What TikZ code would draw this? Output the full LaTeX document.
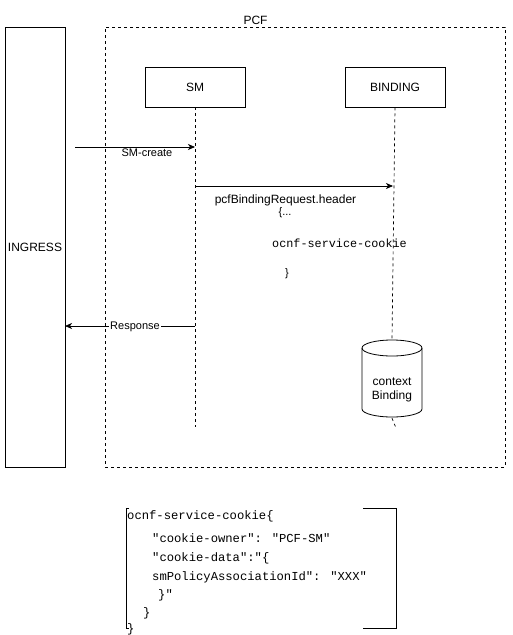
\documentclass[tikz,border=0pt]{standalone}
\usepackage{fontspec}
\setmainfont{Liberation Sans}
\newfontfamily\monof{Liberation Mono}
\usetikzlibrary{arrows.meta}
\begin{document}
\begin{tikzpicture}[x=1pt,y=-1pt,
  box/.style={draw, line width=0.8pt, minimum width=100pt, minimum height=40pt, inner sep=0pt, font=\fontsize{12}{14}\selectfont},
  life/.style={dash pattern=on 3pt off 3pt, line width=0.7pt},
  msg/.style={line width=0.8pt, -{Stealth[length=7pt,width=6pt,inset=2pt]}},
  lbl/.style={fill=white, inner sep=1pt, font=\fontsize{11}{13}\selectfont},
  txt/.style={inner sep=0pt, font=\fontsize{12}{14}\selectfont},
  code/.style={inner sep=0pt, anchor=base west, font=\monof\fontsize{12.2}{14}\selectfont}]
\useasboundingbox (0,0) rectangle (513,635);
% containers
\node[draw, line width=0.8pt, minimum width=60pt, minimum height=440pt, inner sep=0pt, font=\fontsize{12}{14}\selectfont] (ing) at (35,247) {INGRESS};
\node[draw, dash pattern=on 3pt off 3pt, line width=0.7pt, minimum width=400pt, minimum height=440pt, inner sep=0pt] (pcf) at (305,247) {};
\node[txt] (pcflbl) at (255.5,20.5) {PCF};
% participants
\node[box] (sm) at (195,87) {SM};
\node[box] (bind) at (395,87) {BINDING};
% database cylinder
\node[minimum width=60pt, minimum height=78pt, inner sep=0pt] (db) at (392,379) {};
\draw[line width=0.8pt, fill=white] (362,348) -- (362,409) arc[start angle=180, end angle=0, x radius=30, y radius=8] -- (422,348);
\draw[line width=0.8pt] (392,348) ellipse [x radius=30, y radius=8];
\node[txt, align=center, font=\fontsize{12}{14}\selectfont] (dbtxt) at (392,390) {context\\Binding};
% lifelines
\coordinate (smEnd) at (195,427);
\coordinate (bEnd) at (396,428);
\draw[life] (sm.south) -- (smEnd);
\draw[life] (bind.south) -- (db.north);
\draw[life] (db.south) -- (bEnd);
% messages
\coordinate (smcStart) at (75,147);
\coordinate (smcEnd) at (195,147);
\draw[msg] (smcStart) -- (smcEnd);
\node[lbl] (smclbl) at (147,153) {SM-create};
\coordinate (reqStart) at (195,186);
\coordinate (reqEnd) at (393,186);
\draw[msg] (reqStart) -- (reqEnd);
\coordinate (respStart) at (195,326);
\coordinate (respEnd) at (65,326);
\draw[msg] (respStart) -- (respEnd);
\node[lbl] (resplbl) at (135,326.5) {Response};
% request notes
\node[txt] (hdr) at (285.5,200) {pcfBindingRequest.header};
\node[txt, font=\fontsize{11}{13}\selectfont] (ob) at (285,213) {\{...};
\node[txt, font=\monof\fontsize{11.8}{14}\selectfont] (cookie) at (339.5,243.5) {ocnf-service-cookie};
\node[txt, font=\fontsize{11}{13}\selectfont] (cb) at (287,274) {\}};
% code block
\coordinate (lbT) at (129,508);
\coordinate (lbB) at (129,628);
\coordinate (rbT) at (363,508);
\coordinate (rbB) at (363,628);
\draw[line width=0.8pt] (lbT) -- (126,508) -- (126,628) -- (lbB);
\draw[line width=0.8pt] (rbT) -- (396,508) -- (396,628) -- (rbB);
\node[code] (c1) at (127,519.5) {ocnf-service-cookie\{};
\node[code] (c2) at (152,542) {"cookie-owner": "PCF-SM"};
\node[code] (c3) at (152,561) {"cookie-data":"\{};
\node[code] (c4) at (152,580) {smPolicyAssociationId": "XXX"};
\node[code] (c5) at (158,598.5) {\}"};
\node[code] (c6) at (143,616.5) {\}};
\node[code] (c7) at (127,632) {\}};
\end{tikzpicture}
\end{document}
